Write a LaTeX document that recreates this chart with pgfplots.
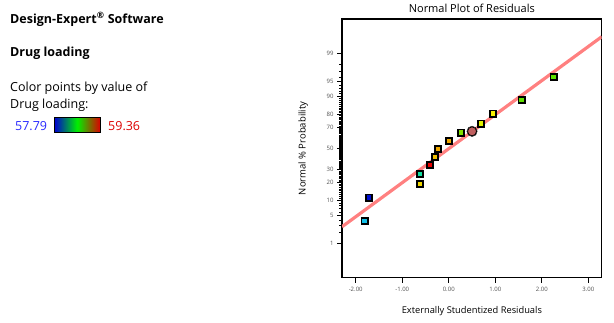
\documentclass[border=0pt]{standalone}
\usepackage{fontspec}
\setmainfont{Open Sans}
\usepackage{pgfplots}
\pgfplotsset{compat=1.18}
\usepackage{pgfplotstable}

\definecolor{cCy}{RGB}{16,192,232}
\definecolor{cBl}{RGB}{0,16,208}
\definecolor{cYe}{RGB}{240,216,0}
\definecolor{cTe}{RGB}{16,224,160}
\definecolor{cRe}{RGB}{232,0,0}
\definecolor{cOy}{RGB}{240,192,0}
\definecolor{cOr}{RGB}{240,168,0}
\definecolor{cGy}{RGB}{128,224,0}
\definecolor{cYg}{RGB}{224,240,0}
\definecolor{cYy}{RGB}{248,240,0}
\definecolor{cGr}{RGB}{96,224,0}
\definecolor{cCi}{RGB}{192,96,96}
\definecolor{fitline}{RGB}{255,128,128}
\definecolor{tickgray}{RGB}{80,80,80}
\definecolor{cbBlue}{RGB}{0,0,210}
\definecolor{cbGreen}{RGB}{0,240,0}
\definecolor{cbRed}{RGB}{220,0,0}
\definecolor{lowblue}{RGB}{40,40,255}

% residuals: x = externally studentized residual, z = normal quantile of probability
\pgfplotstableread{
x z c
-1.815 -1.775 pa
-1.714 -1.203 pb
-0.617 -0.870 pc
-0.617 -0.625 pd
-0.409 -0.404 pe
-0.295 -0.206 pf
-0.237 -0.010 pg
0.000 0.186 pg
0.265 0.392 ph
0.695 0.613 pi
0.946 0.858 pj
1.561 1.194 pk
2.249 1.757 pk
}\resid

\pgfplotstableread{
x z
0.501 0.417
}\highlight

\pgfplotstableread{
x z
-2.295 -1.922
3.288 2.735
}\fitdata

\begin{document}
\begin{tikzpicture}[x=1pt,y=1pt]
\path[use as bounding box] (0,0) rectangle (614,322);

\node[anchor=base west, inner sep=0, font=\bfseries\fontsize{12.5}{14}\selectfont] at (10,298.7) {Design-Expert\textsuperscript{®} Software};
\node[anchor=base west, inner sep=0, font=\bfseries\fontsize{12.5}{14}\selectfont] at (10,265.3) {Drug loading};
\node[anchor=base west, inner sep=0, font=\fontsize{12.5}{14}\selectfont] at (10,230.3) {Color points by value of};
\node[anchor=base west, inner sep=0, font=\fontsize{12.5}{14}\selectfont] at (10,213.7) {Drug loading:};
\node[anchor=base west, inner sep=0, font=\fontsize{12.5}{14}\selectfont, text=lowblue] at (15,191.3) {57.79};
\node[anchor=base west, inner sep=0, font=\fontsize{12.5}{14}\selectfont, text=cbRed] at (108,191.3) {59.36};
\shade[left color=cbBlue, right color=cbRed, middle color=cbGreen] (54.3,189.7) rectangle (100,204.7);
\draw[line width=1pt] (54.3,189.7) rectangle (100,204.7);

\begin{axis}[
  at={(342pt,44.3pt)}, anchor=south west,
  scale only axis, width=259.7pt, height=258.7pt,
  xmin=-2.295, xmax=3.288, ymin=-3.17, ymax=3.17,
  axis line style={line width=1.1pt},
  tick align=outside,
  xtick pos=bottom, ytick pos=left,
  major tick length=5pt, minor tick length=2.8pt,
  tick style={black, line width=0.8pt},
  minor tick style={line width=0.5pt},
  xtick={-2,-1,0,1,2,3},
  xticklabels={-2.00,-1.00,0.00,1.00,2.00,3.00},
  ytick={-2.3263,-1.6449,-1.2816,-0.8416,-0.5244,0,0.5244,0.8416,1.2816,1.6449,2.3263},
  yticklabels={1,5,10,20,30,50,70,80,90,95,99},
  minor ytick={-2.0537,-1.8808,-1.7507,-1.5548,-1.4758,-1.4051,-1.3408,-1.2265,-1.1750,-1.1264,-1.0803,-1.0364,-0.9945,-0.9542,-0.9154,-0.8779,-0.8064,-0.7722,-0.7388,-0.7063,-0.6745,-0.6433,-0.6128,-0.5828,-0.5534,-0.4959,-0.4677,-0.4399,-0.4125,-0.3853,-0.3585,-0.3319,-0.3055,-0.2793,-0.2533,-0.2275,-0.2019,-0.1764,-0.1510,-0.1257,-0.1004,-0.0753,-0.0502,-0.0251,
  0.0251,0.0502,0.0753,0.1004,0.1257,0.1510,0.1764,0.2019,0.2275,0.2533,0.2793,0.3055,0.3319,0.3585,0.3853,0.4125,0.4399,0.4677,0.4959,0.5534,0.5828,0.6128,0.6433,0.6745,0.7063,0.7388,0.7722,0.8064,0.8779,0.9154,0.9542,0.9945,1.0364,1.0803,1.1264,1.1750,1.2265,1.3408,1.4051,1.4758,1.5548,1.7507,1.8808,2.0537},
  tick label style={font=\fontsize{6}{7}\selectfont, text=tickgray},
  xticklabel style={yshift=-1pt},
  title={Normal Plot of Residuals},
  title style={font=\fontsize{11}{12}\selectfont, anchor=center, at={(axis description cs:0.5,1.04)}, yshift=-6pt},
  xlabel={Externally Studentized Residuals},
  xlabel style={font=\fontsize{9.3}{10}\selectfont, anchor=center, at={(axis description cs:0.5,-0.129)}},
  ylabel={Normal \% Probability},
  ylabel style={font=\fontsize{9.5}{10}\selectfont, anchor=center, at={(axis description cs:-0.150,0.5)}},
  clip=true,
]
\addplot[draw=fitline, line width=3.2pt] table[x=x, y=z] {\fitdata};
\addplot[only marks, mark=square*, mark size=3.6pt, draw=none, fill=black!15, forget plot] table[x=x, y=z] {\resid};
\addplot[only marks, scatter, scatter src=explicit symbolic,
  scatter/classes={
    pa={mark=square*, draw=black, fill=cCy},
    pb={mark=square*, draw=black, fill=cBl},
    pc={mark=square*, draw=black, fill=cYe},
    pd={mark=square*, draw=black, fill=cTe},
    pe={mark=square*, draw=black, fill=cRe},
    pf={mark=square*, draw=black, fill=cOy},
    pg={mark=square*, draw=black, fill=cOr},
    ph={mark=square*, draw=black, fill=cGy},
    pi={mark=square*, draw=black, fill=cYg},
    pj={mark=square*, draw=black, fill=cYy},
    pk={mark=square*, draw=black, fill=cGr}},
  mark size=2.7pt, mark options={line width=0.7pt}]
  table[x=x, y=z, meta=c] {\resid};
\addplot[only marks, mark=*, mark size=5.2pt, draw=none, fill=black!15] table[x=x, y=z] {\highlight};
\addplot[only marks, mark=*, mark size=4.5pt, draw=black, fill=cCi, mark options={line width=0.8pt}] table[x=x, y=z] {\highlight};
\end{axis}
\end{tikzpicture}
\end{document}
